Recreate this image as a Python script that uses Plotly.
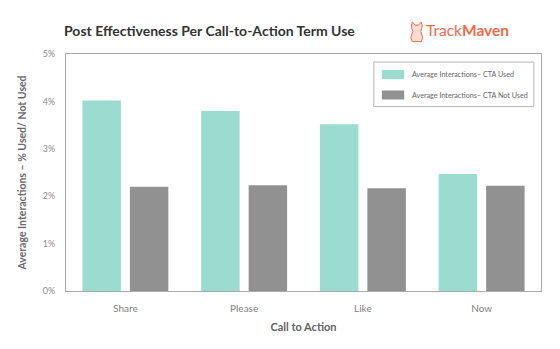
import plotly.graph_objects as go

# Call-to-action terms and average interaction rates (%)
categories = ["Share", "Please", "Like", "Now"]
cta_used = [4.02, 3.80, 3.52, 2.47]
cta_not_used = [2.20, 2.23, 2.17, 2.22]
y_ticks = [0, 1, 2, 3, 4, 5]
y_tick_labels = ["0%", "1%", "2%", "3%", "4%", "5%"]
series_names = ["Average Interactions\u2013 CTA Used", "Average Interactions\u2013 CTA Not Used"]

TEAL = "#9bdcd1"
GREY = "#919191"
BRAND = "#ef6a4c"
FONT = "Lato, 'Open Sans', sans-serif"

fig = go.Figure()
fig.add_trace(go.Bar(x=categories, y=cta_used, name=series_names[0],
                     marker=dict(color=TEAL, line=dict(width=0)), showlegend=False))
fig.add_trace(go.Bar(x=categories, y=cta_not_used, name=series_names[1],
                     marker=dict(color=GREY, line=dict(width=0)), showlegend=False))

fig.update_layout(
    width=560, height=349,
    margin=dict(l=66, r=19, t=54, b=58),
    paper_bgcolor="white", plot_bgcolor="white",
    barmode="group", bargap=0.2, bargroupgap=0.19,
    font=dict(family=FONT, color="#888"),
)
fig.update_xaxes(
    showline=True, mirror=True, linecolor="#aaaaaa", linewidth=1,
    showgrid=False, ticks="", tickfont=dict(size=10, color="#808080"),
    ticklabelstandoff=8,
    title=dict(text="<b>Call to Action</b>", font=dict(size=11, color="#5f5f5f"), standoff=10),
)
fig.update_yaxes(
    range=[0, 5], tickvals=y_ticks, ticktext=y_tick_labels,
    showline=True, mirror=True, linecolor="#aaaaaa", linewidth=1,
    showgrid=False, zeroline=False, ticks="",
    tickfont=dict(size=9, color="#8c8c8c"), ticklabelstandoff=8,
    title=dict(text="<b>Average Interactions \u2013 % Used/ Not Used</b>",
               font=dict(size=10.5, color="#6a6a6a"), standoff=14),
)

# Chart title
fig.add_annotation(text="<b>Post Effectiveness Per Call-to-Action Term Use</b>",
                   xref="paper", yref="paper", x=-0.009, y=1.0, xanchor="left", yanchor="bottom",
                   yshift=13, showarrow=False, font=dict(size=14, color="#333333", family=FONT))

# Brand mark: small dog outline followed by the wordmark
fig.add_shape(type="path", xref="paper", yref="paper",
              path="M 0.727 1.118 L 0.729 1.135 L 0.735 1.122 L 0.742 1.122 L 0.748 1.135 "
                   "L 0.750 1.118 L 0.747 1.095 L 0.751 1.070 L 0.748 1.052 L 0.729 1.052 "
                   "L 0.726 1.070 L 0.730 1.095 Z",
              line=dict(color=BRAND, width=1), fillcolor="rgba(239,106,76,0.25)")
fig.add_annotation(text="Track<b>Maven</b>",
                   xref="paper", yref="paper", x=0.936, y=1.0, xanchor="right", yanchor="bottom",
                   yshift=13, showarrow=False, font=dict(size=15.5, color=BRAND, family=FONT))

# Legend box
fig.add_shape(type="rect", xref="paper", yref="paper",
              x0=0.648, x1=0.985, y0=0.778, y1=0.966,
              line=dict(color="#b5b5b5", width=1), fillcolor="white")
swatch_rows = [0.9135, 0.8270]
for name, color, yc in zip(series_names, [TEAL, GREY], swatch_rows):
    fig.add_shape(type="rect", xref="paper", yref="paper",
                  x0=0.665, x1=0.712, y0=yc - 0.019, y1=yc + 0.019,
                  line=dict(width=0), fillcolor=color)
    fig.add_annotation(text=name, xref="paper", yref="paper", x=0.724, y=yc,
                       xanchor="left", yanchor="middle", showarrow=False,
                       font=dict(size=7.2, color="#666666", family=FONT))

fig.write_html("out.html")
